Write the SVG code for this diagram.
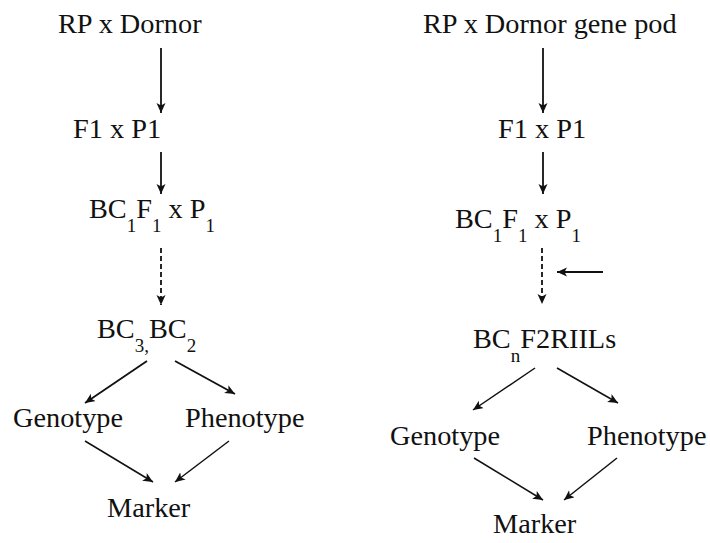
<svg xmlns="http://www.w3.org/2000/svg" width="710" height="543" viewBox="0 0 710 543">
<style>
text{font-family:"Liberation Serif","Times New Roman",serif;font-size:28.3px;fill:#111}
.sub{font-size:19px}
.c line{stroke:#111;stroke-width:1.8;fill:none}
.c .d{stroke-dasharray:5 3}
.c .t{stroke-width:1.5}
</style>
<defs>
<marker id="ah" markerUnits="userSpaceOnUse" markerWidth="12" markerHeight="10" refX="10" refY="4.5" orient="auto">
<path d="M0,0 L10,4.5 L0,9 L2.5,4.5 Z" fill="#111"/>
</marker>
</defs>
<rect width="710" height="543" fill="#fff"/>
<g id="l-rp"><text x="58" y="33">RP x Dornor</text></g>
<g id="l-f1"><text x="73" y="138">F1 x P1</text></g>
<g id="l-bc1"><text x="89" y="218">BC<tspan class="sub" dy="14">1</tspan><tspan dy="-14">F</tspan><tspan class="sub" dy="14">1</tspan><tspan dy="-14"> x P</tspan><tspan class="sub" dy="14">1</tspan></text></g>
<g id="l-bc3"><text x="97" y="338">BC<tspan class="sub" dy="14">3</tspan><tspan class="sub">,</tspan><tspan dy="-14">BC</tspan><tspan class="sub" dy="14">2</tspan></text></g>
<g id="l-geno"><text x="13" y="427">Genotype</text></g>
<g id="l-pheno"><text x="185" y="427">Phenotype</text></g>
<g id="l-marker"><text x="107" y="517">Marker</text></g>
<g id="r-rp"><text x="423" y="33">RP x Dornor gene pod</text></g>
<g id="r-f1"><text x="498" y="138">F1 x P1</text></g>
<g id="r-bc1"><text x="455" y="228">BC<tspan class="sub" dy="14">1</tspan><tspan dy="-14">F</tspan><tspan class="sub" dy="14">1</tspan><tspan dy="-14"> x P</tspan><tspan class="sub" dy="14">1</tspan></text></g>
<g id="r-bcn"><text x="473" y="348">BC<tspan class="sub" dy="14">n</tspan><tspan dy="-14">F2RIILs</tspan></text></g>
<g id="r-geno"><text x="390" y="445">Genotype</text></g>
<g id="r-pheno"><text x="587" y="445">Phenotype</text></g>
<g id="r-marker"><text x="493" y="533">Marker</text></g>
<g id="connectors" class="c">
<line x1="161" y1="48" x2="161" y2="113" marker-end="url(#ah)"/>
<line x1="161" y1="152" x2="161" y2="194" marker-end="url(#ah)"/>
<line class="d" x1="161" y1="248" x2="161" y2="305" marker-end="url(#ah)"/>
<line x1="147" y1="361" x2="85" y2="403" marker-end="url(#ah)"/>
<line x1="175" y1="361" x2="235" y2="394" marker-end="url(#ah)"/>
<line class="t" x1="85" y1="441" x2="153" y2="482" marker-end="url(#ah)"/>
<line class="t" x1="229" y1="441" x2="175" y2="482" marker-end="url(#ah)"/>
<line x1="543" y1="48" x2="543" y2="113" marker-end="url(#ah)"/>
<line x1="543" y1="152" x2="543" y2="194" marker-end="url(#ah)"/>
<line class="d" x1="542" y1="248" x2="542" y2="304" marker-end="url(#ah)"/>
<line x1="603" y1="272" x2="557" y2="272" marker-end="url(#ah)"/>
<line class="t" x1="535" y1="368" x2="473" y2="410" marker-end="url(#ah)"/>
<line class="t" x1="557" y1="368" x2="618" y2="403" marker-end="url(#ah)"/>
<line class="t" x1="474" y1="458" x2="543" y2="500" marker-end="url(#ah)"/>
<line class="t" x1="617" y1="458" x2="564" y2="500" marker-end="url(#ah)"/>
</g>
</svg>
